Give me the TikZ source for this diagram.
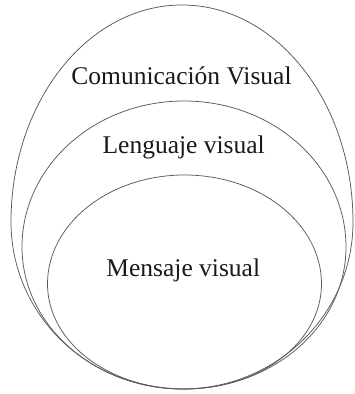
\documentclass[tikz,border=0pt]{standalone}
\usepackage{fontspec}
\setmainfont{Liberation Serif}
\begin{document}
\begin{tikzpicture}[x=1pt,y=1pt,
  egg/.style={draw=black!65, line width=0.75pt},
  lbl/.style={anchor=base, inner sep=0pt, font=\fontsize{25.5}{30}\selectfont, text=black!90}]
\useasboundingbox (0,0) rectangle (355,394);
% outer
\draw[egg] (353,172) arc[start angle=0,end angle=180,x radius=171,y radius=217]
                     arc[start angle=180,end angle=360,x radius=171,y radius=167];
% middle
\draw[egg] (346,147) arc[start angle=0,end angle=180,x radius=162,y radius=146]
                     arc[start angle=180,end angle=360,x radius=162,y radius=142];
% inner
\draw[egg] (321.5,110) arc[start angle=0,end angle=180,x radius=137,y radius=109]
                       arc[start angle=180,end angle=360,x radius=137,y radius=105];
\node[lbl] (com) at (181.5,309) {Comunicación Visual};
\node[lbl] (len) at (183.7,240) {Lenguaje visual};
\node[lbl] (men) at (183.3,117) {Mensaje visual};
\end{tikzpicture}
\end{document}
